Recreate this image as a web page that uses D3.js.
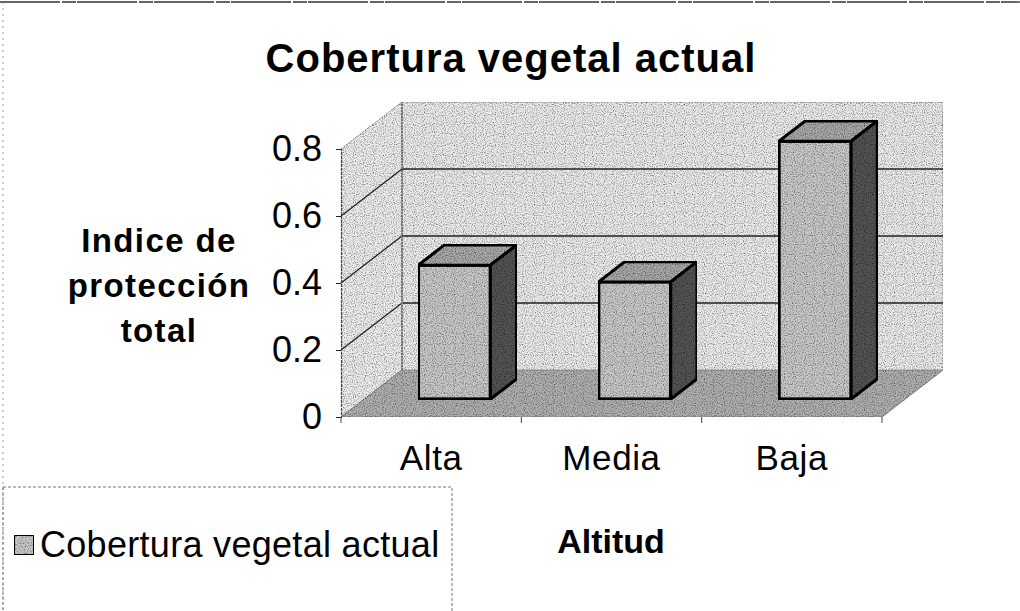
<!DOCTYPE html>
<html>
<head>
<meta charset="utf-8">
<script src="https://cdn.jsdelivr.net/npm/d3@7"></script>
<style>
  body { margin: 0; background: #fff; }
  text { font-family: "Liberation Sans", Arial, sans-serif; fill: #000; }
</style>
</head>
<body>
<svg id="mainsvg" width="1020" height="611"></svg>
<script>
const categories = ['Alta', 'Media', 'Baja'];
const values = [0.40, 0.35, 0.77];
const yTicks = [0, 0.2, 0.4, 0.6, 0.8];
const gridTicks = [0.2, 0.4, 0.6];
const seriesName = 'Cobertura vegetal actual';

const svg = d3.select('#mainsvg');
const width = +svg.attr('width');
const height = +svg.attr('height');

// front plane of the 3d box
const x0 = 341, x1 = 882;
const y = d3.scaleLinear().domain([0, 0.8]).range([417, 149]);
const x = d3.scaleBand().domain(categories).range([x0, x1]);
// oblique depth offset
const dx = 61, dy = -47;
const dFront = 0.38, dBack = 0.81;

// speckle filter to mimic the scanned print
const defs = svg.append('defs');
const f = defs.append('filter').attr('id', 'grain').attr('x', 0).attr('y', 0).attr('width', 1).attr('height', 1);
f.append('feTurbulence').attr('type', 'fractalNoise').attr('baseFrequency', 0.9).attr('numOctaves', 1).attr('seed', 3).attr('result', 'n');
f.append('feColorMatrix').attr('in', 'n').attr('type', 'matrix')
  .attr('values', '0 0 0 0 0  0 0 0 0 0  0 0 0 0 0  0 0 0 -2.2 1.25').attr('result', 'dots');
f.append('feComposite').attr('in', 'dots').attr('in2', 'SourceGraphic').attr('operator', 'in').attr('result', 'dd');
f.append('feMerge').selectAll('feMergeNode').data(['SourceGraphic', 'dd']).join('feMergeNode').attr('in', d => d);

svg.append('rect').attr('width', width).attr('height', height).attr('fill', '#fff');

// page frame
svg.append('line').attr('x1', 0).attr('x2', width).attr('y1', 2).attr('y2', 2)
  .attr('stroke', '#333').attr('stroke-width', 1.3).attr('stroke-dasharray', '60 2 14 1');
svg.append('line').attr('x1', 3).attr('x2', 3).attr('y1', 2).attr('y2', height)
  .attr('stroke', '#999').attr('stroke-width', 1).attr('stroke-dasharray', '2 4');

const g = svg.append('g');
const pt = (px, py) => `${px},${py}`;

// back wall
g.append('polygon')
  .attr('points', [pt(x0 + dx, y(0) + dy), pt(x1 + dx, y(0) + dy), pt(x1 + dx, y(0.8) + dy), pt(x0 + dx, y(0.8) + dy)].join(' '))
  .attr('fill', '#ececec').attr('stroke', '#888').attr('stroke-width', 1).attr('stroke-dasharray', '2 1')
  .attr('filter', 'url(#grain)');
// side wall
g.append('polygon')
  .attr('points', [pt(x0, y(0)), pt(x0 + dx, y(0) + dy), pt(x0 + dx, y(0.8) + dy), pt(x0, y(0.8))].join(' '))
  .attr('fill', '#eeeeee').attr('stroke', '#888').attr('stroke-width', 1).attr('stroke-dasharray', '2 1')
  .attr('filter', 'url(#grain)');
// floor
g.append('polygon')
  .attr('points', [pt(x0, y(0)), pt(x1, y(0)), pt(x1 + dx, y(0) + dy), pt(x0 + dx, y(0) + dy)].join(' '))
  .attr('fill', '#b0b0b0').attr('stroke', '#888').attr('stroke-width', 1)
  .attr('filter', 'url(#grain)');

// gridlines, back wall and side wall
g.selectAll('.gridb').data(gridTicks).join('line').attr('class', 'gridb')
  .attr('x1', x0 + dx).attr('x2', x1 + dx)
  .attr('y1', d => y(d) + dy).attr('y2', d => y(d) + dy)
  .attr('stroke', '#222').attr('stroke-width', 1.3);
g.selectAll('.grids').data(gridTicks).join('line').attr('class', 'grids')
  .attr('x1', x0).attr('x2', x0 + dx)
  .attr('y1', d => y(d)).attr('y2', d => y(d) + dy)
  .attr('stroke', '#222').attr('stroke-width', 1.3);
// back wall left edge (darker)
g.append('line').attr('x1', x0 + dx).attr('x2', x0 + dx).attr('y1', y(0) + dy).attr('y2', y(0.8) + dy)
  .attr('stroke', '#777').attr('stroke-width', 2).attr('stroke-dasharray', '2 1');

// bars
const bw = x.bandwidth() * 0.4;
const bars = g.selectAll('.bar').data(categories.map((c, i) => ({ c, v: values[i] }))).join('g').attr('class', 'bar');
const bx = d => x(d.c) + x.bandwidth() * 0.3 + dFront * dx;
const by0 = y(0) + dFront * dy;
const byv = d => y(d.v) + dFront * dy;
const ddx = (dBack - dFront) * dx, ddy = (dBack - dFront) * dy;

bars.append('polygon') // top
  .attr('points', d => [pt(bx(d), byv(d)), pt(bx(d) + bw, byv(d)), pt(bx(d) + bw + ddx, byv(d) + ddy), pt(bx(d) + ddx, byv(d) + ddy)].join(' '))
  .attr('fill', '#a9a9a9').attr('stroke', '#000').attr('stroke-width', 3).attr('stroke-linejoin', 'round')
  .attr('filter', 'url(#grain)');
bars.append('polygon') // side
  .attr('points', d => [pt(bx(d) + bw, byv(d)), pt(bx(d) + bw + ddx, byv(d) + ddy), pt(bx(d) + bw + ddx, by0 + ddy), pt(bx(d) + bw, by0)].join(' '))
  .attr('fill', '#555').attr('stroke', '#000').attr('stroke-width', 3).attr('stroke-linejoin', 'round')
  .attr('filter', 'url(#grain)');
bars.append('rect') // front
  .attr('x', bx).attr('y', byv).attr('width', bw).attr('height', d => by0 - byv(d))
  .attr('fill', '#c9c9c9').attr('stroke', '#000').attr('stroke-width', 3.5)
  .attr('filter', 'url(#grain)');

// value axis
const yAxis = d3.axisLeft(y).tickValues(yTicks).tickSize(5).tickPadding(14).tickFormat(d => d === 0 ? '0' : d3.format('.1f')(d));
const ya = svg.append('g').attr('transform', `translate(${x0},0)`).call(yAxis);
ya.select('.domain').attr('stroke', '#444').attr('stroke-width', 1.2).attr('stroke-dasharray', '3 1');
ya.selectAll('.tick line').attr('stroke', '#222');
ya.selectAll('text').attr('font-size', 36).attr('font-family', '"Liberation Sans", Arial, sans-serif').attr('fill', '#111');

// category axis
const xAxis = d3.axisBottom(x).tickSize(0).tickPadding(28);
const xa = svg.append('g').attr('transform', `translate(0,${y(0)})`).call(xAxis);
xa.select('.domain').remove();
xa.selectAll('text').attr('font-size', 35).attr('letter-spacing', 0.6)
  .attr('font-family', '"Liberation Sans", Arial, sans-serif').attr('fill', '#111');
svg.selectAll('.xtick').data(d3.range(categories.length + 1)).join('line').attr('class', 'xtick')
  .attr('x1', i => x0 + i * x.step()).attr('x2', i => x0 + i * x.step())
  .attr('y1', y(0)).attr('y2', y(0) + 6).attr('stroke', '#444');

// titles
svg.append('text').attr('x', 511).attr('y', 72).attr('text-anchor', 'middle')
  .attr('font-size', 40).attr('font-weight', 'bold').attr('letter-spacing', 1).text('Cobertura vegetal actual');
svg.append('text').attr('x', 611).attr('y', 553).attr('text-anchor', 'middle')
  .attr('font-size', 34).attr('font-weight', 'bold').text('Altitud');
svg.append('text').attr('text-anchor', 'middle').attr('font-size', 33).attr('font-weight', 'bold')
  .selectAll('tspan').data(['Indice de', 'protección', 'total']).join('tspan')
  .attr('x', 159).attr('y', (d, i) => 252 + i * 45).attr('letter-spacing', 1.4).text(d => d);

// legend
const lg = svg.append('g');
lg.append('rect').attr('x', 3).attr('y', 487).attr('width', 449).attr('height', 140)
  .attr('fill', 'none').attr('stroke', '#777').attr('stroke-width', 1).attr('stroke-dasharray', '3 2');
lg.append('rect').attr('x', 14).attr('y', 535).attr('width', 20).attr('height', 20)
  .attr('fill', '#c9c9c9').attr('stroke', '#000').attr('stroke-width', 2).attr('filter', 'url(#grain)');
lg.append('text').attr('x', 40).attr('y', 557).attr('font-size', 36).attr('letter-spacing', 0.3).text(seriesName);
</script>
</body>
</html>
